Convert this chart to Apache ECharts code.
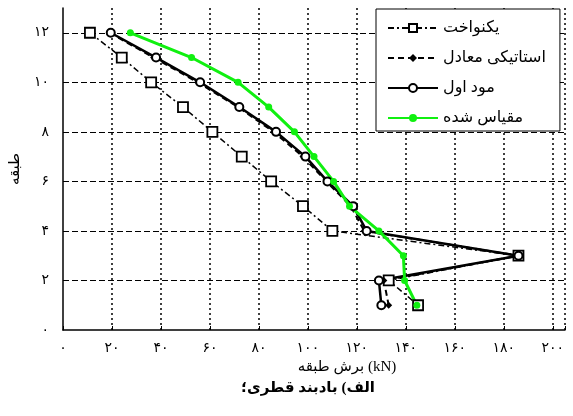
<!DOCTYPE html>
<html>
<head>
<meta charset="utf-8">
<script src="https://cdn.jsdelivr.net/npm/echarts@6/dist/echarts.min.js"></script>
<style>
  html, body { margin: 0; padding: 0; background: #fff; }
  #chart { width: 573px; height: 416px; }
</style>
</head>
<body>
<div id="chart"></div>
<script>
  // طبقه (storey) and storey shear values in kN
  var floors = [12, 11, 10, 9, 8, 7, 6, 5, 4, 3, 2, 1];
  var uniform = [11, 24, 36, 49, 61, 73, 85, 98, 110, 186, 133, 145];
  var equivStatic = [19, 37, 55, 71.5, 86, 98, 107.5, 117.5, 123, 186, 131, 133];
  var firstMode = [19.5, 38, 56, 72, 87, 99, 108, 118.5, 124, 186, 129, 130];
  var scaled = [27.5, 52.5, 71.5, 84, 94.5, 102.5, 110.5, 117, 129, 139, 139.5, 144.5];

  var seriesNames = ['یکنواخت', 'استاتیکی معادل', 'مود اول', 'مقیاس شده'];
  var xTitle = 'برش طبقه (kN)';
  var yTitle = 'طبقه';
  var caption = 'الف) بادبند قطری؛';

  var arabicFont = "'Liberation Serif', 'DejaVu Sans', serif";

  function faDigits(v) {
    return String(v).replace(/\d/g, function (d) { return '۰۱۲۳۴۵۶۷۸۹'[d]; });
  }
  function pairs(xs) {
    return xs.map(function (x, i) { return [x, floors[i]]; });
  }

  var myChart = echarts.init(document.getElementById('chart'));

  var option = {
    animation: false,
    backgroundColor: '#fff',
    grid: { left: 61, right: 8, top: 8, bottom: 86 },
    legend: {
      orient: 'vertical',
      left: 376,
      top: 9,
      padding: [11, 14, 5, 11],
      itemGap: 14,
      itemWidth: 50,
      itemHeight: 10,
      borderColor: '#000',
      borderWidth: 1,
      backgroundColor: '#fff',
      textStyle: { fontFamily: arabicFont, fontSize: 16, color: '#000' },
      data: seriesNames
    },
    xAxis: {
      type: 'value',
      min: 0,
      max: 205,
      interval: 20,
      name: xTitle,
      nameLocation: 'middle',
      nameGap: 24,
      nameTextStyle: { fontFamily: arabicFont, fontSize: 15, color: '#000', padding: [0, 0, 0, 66] },
      axisLine: { lineStyle: { color: '#000', width: 1.5 } },
      axisTick: { inside: true, length: 4, lineStyle: { color: '#000' } },
      axisLabel: {
        margin: 11,
        fontFamily: arabicFont,
        fontSize: 14,
        color: '#000',
        formatter: function (v) { return v > 200 ? '' : faDigits(v); }
      },
      splitLine: {
        show: true,
        showMinLine: false,
        lineStyle: { color: '#000', width: 1.5, type: [2, 3] }
      }
    },
    yAxis: {
      type: 'value',
      min: 0,
      max: 13,
      interval: 2,
      name: yTitle,
      nameLocation: 'middle',
      nameRotate: 90,
      nameGap: 40,
      nameTextStyle: { fontFamily: arabicFont, fontSize: 15, color: '#000' },
      axisLine: { show: true, lineStyle: { color: '#000', width: 1.5 } },
      axisTick: { show: false },
      axisLabel: {
        margin: 14,
        fontFamily: arabicFont,
        fontSize: 14,
        color: '#000',
        formatter: function (v) { return v > 12 ? '' : faDigits(v); }
      },
      splitLine: {
        show: true,
        showMinLine: false,
        showMaxLine: false,
        lineStyle: { color: '#000', width: 1.2, type: [6, 3] }
      }
    },
    graphic: [{
      type: 'text',
      x: 308,
      y: 388,
      style: {
        text: caption,
        fontFamily: arabicFont,
        fontSize: 15,
        fontWeight: 'bold',
        fill: '#000',
        textAlign: 'center',
        textVerticalAlign: 'middle'
      }
    }],
    series: [
      {
        name: seriesNames[0],
        type: 'line',
        data: pairs(uniform),
        symbol: 'rect',
        symbolSize: 10,
        itemStyle: { color: '#fff', borderColor: '#000', borderWidth: 1.8 },
        lineStyle: { color: '#000', width: 1.5, type: [6, 3, 2, 3] }
      },
      {
        name: seriesNames[1],
        type: 'line',
        data: pairs(equivStatic),
        symbol: 'diamond',
        symbolSize: 7,
        itemStyle: { color: '#000' },
        lineStyle: { color: '#000', width: 2, type: [6, 4] }
      },
      {
        name: seriesNames[2],
        type: 'line',
        data: pairs(firstMode),
        symbol: 'circle',
        symbolSize: 8,
        itemStyle: { color: '#fff', borderColor: '#000', borderWidth: 2 },
        lineStyle: { color: '#000', width: 2.5 }
      },
      {
        name: seriesNames[3],
        type: 'line',
        data: pairs(scaled),
        symbol: 'circle',
        symbolSize: 7,
        itemStyle: { color: '#10f010' },
        lineStyle: { color: '#10f010', width: 3 }
      }
    ]
  };

  myChart.setOption(option);
</script>
</body>
</html>
